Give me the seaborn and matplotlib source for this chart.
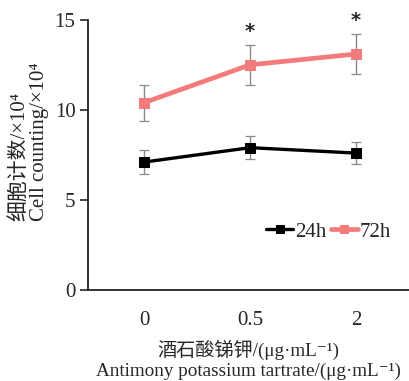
import numpy as np
import matplotlib
matplotlib.use("Agg")
import matplotlib.pyplot as plt
import seaborn as sns
import pandas as pd

# data
doses = ["0", "0.5", "2"]
mean_24h = [7.1, 7.9, 7.6]
sd_24h = [0.65, 0.65, 0.6]
mean_72h = [10.4, 12.5, 13.1]
sd_72h = [1.0, 1.1, 1.1]
star_dose = [1, 2]  # indices marked significant

sns.set_style("white")
fams = ["Liberation Serif", "Noto Sans CJK SC", "DejaVu Serif"]
plt.rcParams["font.family"] = fams

pos = np.arange(len(doses))
df = pd.DataFrame({
    "x": np.concatenate([pos, pos]),
    "y": mean_24h + mean_72h,
    "group": ["24h"] * 3 + ["72h"] * 3,
})

fig = plt.figure(figsize=(4.09, 3.81), dpi=100)
ax = fig.add_axes([0.215, 0.239, 0.785, 0.709])

colors = {"24h": "black", "72h": "#F47B7B"}
widths = {"24h": 2.4, "72h": 3.4}

for g, m, s in [("24h", mean_24h, sd_24h), ("72h", mean_72h, sd_72h)]:
    ax.errorbar(pos, m, yerr=s, fmt="none", ecolor="#8a8a8a", elinewidth=1.0,
                capsize=3.5, capthick=0.9, zorder=1)
    sns.lineplot(data=df[df.group == g], x="x", y="y", color=colors[g],
                 linewidth=widths[g], marker="s", markersize=7.5,
                 markeredgecolor=colors[g], label=g, ax=ax, zorder=3)

for i in star_dose:
    ax.text(pos[i], mean_72h[i] + sd_72h[i] + 0.25, "*", ha="center",
            va="bottom", fontsize=14, fontweight="bold", family="DejaVu Sans")

ax.set_xlim(-0.53, 2.5)
ax.set_ylim(0, 15)
ax.set_yticks([0, 5, 10, 15])
ax.set_xticks(pos)
ax.set_xticklabels(doses)
ax.tick_params(axis="y", direction="out", length=6, width=1.2, left=True,
               labelsize=15, pad=3)
ax.tick_params(axis="x", length=0, labelsize=15, pad=15)
for sp in ["top", "right"]:
    ax.spines[sp].set_visible(False)
for sp in ["left", "bottom"]:
    ax.spines[sp].set_linewidth(1.3)
    ax.spines[sp].set_color("#222222")

ax.set_xlabel("酒石酸锑钾/(μg·mL⁻¹)\nAntimony potassium tartrate/(μg·mL⁻¹)",
              fontsize=13.8, linespacing=1.25, labelpad=7)
ax.set_ylabel("细胞计数/×10⁴\nCell counting/×10⁴", fontsize=15,
              linespacing=1.05, multialignment="left")
ax.yaxis.set_label_coords(-0.121, 0.548)

ax.legend(loc="center", bbox_to_anchor=(0.75, 0.215), frameon=False, ncol=2,
          fontsize=15, handlelength=1.3, handletextpad=0.1, columnspacing=0.2,
          borderpad=0, markerscale=0.8)

fig.savefig("out.png", dpi=100)
